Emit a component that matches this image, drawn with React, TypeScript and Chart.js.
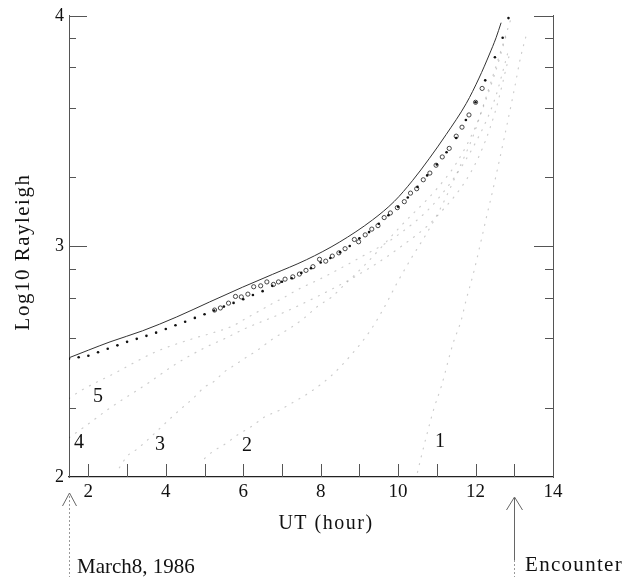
import React, { useEffect, useRef } from "react";
import { Chart, registerables } from "chart.js";

Chart.register(...registerables);

// ---- data (UT hour, log10 Rayleigh) ----
const totalHours = [1.5, 2.0, 2.56, 3.4, 4.28, 5.13, 5.98, 6.76, 7.63, 8.48, 9.34, 9.9, 10.37, 10.8, 11.24, 11.76, 12.09, 12.35, 12.53, 12.66];
const totalLog = [2.517, 2.55, 2.586, 2.634, 2.694, 2.759, 2.823, 2.879, 2.942, 3.018, 3.115, 3.195, 3.285, 3.38, 3.485, 3.62, 3.73, 3.83, 3.905, 3.97];

const dotHours = [1.5, 1.75, 2.0, 2.25, 2.5, 2.75, 3.0, 3.25, 3.5, 3.75, 4.0, 4.25, 4.5, 4.75, 5.0, 5.25, 5.5, 5.75, 6.0, 6.25, 6.5, 6.75, 7.0, 7.25, 7.5, 7.75, 8.0, 8.25, 8.5, 8.75, 9.0, 9.25, 9.5, 9.75, 10.0, 10.25, 10.5, 10.75, 11.0, 11.25, 11.5, 11.75, 12.0, 12.25, 12.5, 12.7, 12.85];
const dotLog = [2.513, 2.519, 2.526, 2.541, 2.556, 2.571, 2.586, 2.599, 2.612, 2.626, 2.642, 2.658, 2.673, 2.69, 2.706, 2.722, 2.739, 2.755, 2.771, 2.789, 2.806, 2.829, 2.847, 2.862, 2.885, 2.905, 2.93, 2.95, 2.975, 3.002, 3.035, 3.062, 3.098, 3.135, 3.172, 3.212, 3.258, 3.308, 3.355, 3.408, 3.47, 3.548, 3.625, 3.72, 3.82, 3.905, 3.99];

const circleHours = [5.26, 5.41, 5.62, 5.8, 5.95, 6.12, 6.27, 6.45, 6.61, 6.78, 6.91, 7.08, 7.28, 7.45, 7.62, 7.8, 7.97, 8.13, 8.3, 8.47, 8.63, 8.87, 8.98, 9.15, 9.32, 9.48, 9.64, 9.8, 9.98, 10.16, 10.32, 10.48, 10.65, 10.82, 10.98, 11.14, 11.32, 11.5, 11.65, 11.83, 12.0, 12.17];
const circleLog = [2.724, 2.733, 2.754, 2.783, 2.781, 2.793, 2.825, 2.829, 2.846, 2.835, 2.846, 2.858, 2.868, 2.88, 2.896, 2.912, 2.944, 2.936, 2.958, 2.972, 2.99, 3.03, 3.02, 3.05, 3.075, 3.09, 3.125, 3.145, 3.168, 3.194, 3.231, 3.25, 3.289, 3.318, 3.352, 3.388, 3.425, 3.478, 3.517, 3.57, 3.625, 3.685];

const comp5Hours = [1.5, 1.76, 2.76, 3.23, 3.74, 4.7, 5.21, 5.73, 6.04, 6.37, 6.73, 7.07, 7.4, 8.0, 9.0, 10.0, 11.0, 12.0, 12.5, 12.85];
const comp5Log = [2.34, 2.37, 2.457, 2.5, 2.543, 2.6, 2.625, 2.655, 2.685, 2.716, 2.75, 2.78, 2.812, 2.86, 2.95, 3.05, 3.2, 3.45, 3.64, 3.85];

const comp4Hours = [1.5, 2.0, 2.48, 2.74, 3.48, 4.26, 5.0, 5.52, 6.0, 7.0, 8.0, 9.0, 10.0, 11.0, 12.0, 12.5, 12.9];
const comp4Log = [2.17, 2.23, 2.29, 2.32, 2.4, 2.49, 2.56, 2.6, 2.64, 2.71, 2.79, 2.88, 2.99, 3.13, 3.36, 3.58, 3.85];

const comp3Hours = [2.8, 3.0, 3.25, 4.26, 4.49, 4.7, 5.0, 5.21, 5.52, 5.73, 6.06, 6.37, 6.73, 7.25, 7.58, 7.92, 8.28, 8.59, 9.2, 9.75, 10.08, 11.0, 11.5, 12.0, 12.5, 12.8];
const comp3Log = [2.04, 2.09, 2.12, 2.276, 2.31, 2.34, 2.39, 2.41, 2.457, 2.48, 2.517, 2.55, 2.595, 2.65, 2.69, 2.74, 2.78, 2.83, 2.93, 3.03, 3.09, 3.25, 3.36, 3.52, 3.75, 3.92];

const comp2Hours = [5.0, 5.21, 5.57, 5.83, 6.22, 6.55, 6.94, 7.25, 7.76, 8.28, 8.79, 9.26, 9.59, 10.0, 10.37, 10.75, 11.11, 11.42, 11.58, 11.94, 12.27, 12.6, 12.9];
const comp2Log = [2.08, 2.11, 2.147, 2.18, 2.22, 2.26, 2.29, 2.32, 2.372, 2.44, 2.53, 2.63, 2.72, 2.85, 2.957, 3.06, 3.17, 3.28, 3.34, 3.48, 3.647, 3.82, 3.98];

const comp1Hours = [10.5, 10.6, 10.93, 11.11, 11.42, 11.63, 11.76, 11.94, 12.3, 12.48, 13.0, 13.15, 13.33];
const comp1Log = [2.02, 2.09, 2.3, 2.39, 2.58, 2.68, 2.77, 2.88, 3.14, 3.27, 3.68, 3.81, 3.93];

const curveLabels = ["5", "4", "3", "2", "1"];
const curveLabelHours = [2.25, 1.76, 3.85, 6.1, 11.08];
const curveLabelLogs = [2.346, 2.147, 2.139, 2.134, 2.152];

const xTickLabels = [2, 4, 6, 8, 10, 12, 14];
const xMinorTicks = [2, 3, 4, 5, 6, 7, 8, 9, 10, 11, 12, 13];
const yMajorTicks = [2, 3, 4];
const yMinorTicks = [
  Math.log10(200), Math.log10(400), Math.log10(600), Math.log10(800),
  Math.log10(2000), Math.log10(4000), Math.log10(6000), Math.log10(8000),
];

const startHour = 1.5;
const encounterHour = 13;
const xTitle = "UT (hour)";
const yTitle = "Log10 Rayleigh";
const startLabel = "March8, 1986";
const encounterLabel = "Encounter";

const SERIF = "'Liberation Serif', 'DejaVu Serif', serif";

function pts(xs: number[], ys: number[]) {
  return xs.map((x, i) => ({ x, y: ys[i] }));
}

const decorPlugin = {
  id: "decor",
  afterDraw(chart: any) {
    const ctx: CanvasRenderingContext2D = chart.ctx;
    const xs = chart.scales.x;
    const ys = chart.scales.y;
    const area = chart.chartArea;
    ctx.save();
    // inward ticks
    ctx.strokeStyle = "#555";
    ctx.lineWidth = 1;
    ctx.beginPath();
    for (const h of xMinorTicks) {
      const px = Math.round(xs.getPixelForValue(h)) + 0.5;
      ctx.moveTo(px, area.bottom);
      ctx.lineTo(px, area.bottom - 13);
    }
    for (const v of yMajorTicks) {
      if (v === 2) continue;
      const py = Math.round(ys.getPixelForValue(v)) + 0.5;
      ctx.moveTo(area.left, py);
      ctx.lineTo(area.left + 18, py);
      ctx.moveTo(area.right, py);
      ctx.lineTo(area.right - 19, py);
    }
    for (const v of yMinorTicks) {
      const py = Math.round(ys.getPixelForValue(v)) + 0.5;
      ctx.moveTo(area.left, py);
      ctx.lineTo(area.left + 7, py);
      ctx.moveTo(area.right, py);
      ctx.lineTo(area.right - 8, py);
    }
    ctx.stroke();

    // curve labels
    ctx.fillStyle = "#111";
    ctx.font = `20px ${SERIF}`;
    ctx.textAlign = "center";
    ctx.textBaseline = "middle";
    curveLabels.forEach((t, i) => {
      ctx.fillText(t, xs.getPixelForValue(curveLabelHours[i]), ys.getPixelForValue(curveLabelLogs[i]));
    });

    // axis titles
    (ctx as any).letterSpacing = "1.5px";
    ctx.font = `20px ${SERIF}`;
    ctx.fillText(xTitle, 326, 524);
    ctx.save();
    ctx.translate(23, 252);
    ctx.rotate(-Math.PI / 2);
    ctx.font = `21px ${SERIF}`;
    ctx.fillText(yTitle, 0, 0);
    ctx.restore();

    // arrows
    const sx = Math.round(xs.getPixelForValue(startHour)) + 0.5;
    const ex = Math.round(xs.getPixelForValue(encounterHour)) + 0.5;
    ctx.strokeStyle = "#666";
    ctx.lineWidth = 1;
    ctx.beginPath();
    ctx.moveTo(sx - 7, 506);
    ctx.lineTo(sx, 493);
    ctx.lineTo(sx + 7, 506);
    ctx.moveTo(ex - 8, 510);
    ctx.lineTo(ex, 497);
    ctx.lineTo(ex + 8, 510);
    ctx.moveTo(ex, 498);
    ctx.lineTo(ex, 560);
    ctx.stroke();
    ctx.setLineDash([2, 2]);
    ctx.strokeStyle = "#999";
    ctx.beginPath();
    ctx.moveTo(sx, 496);
    ctx.lineTo(sx, 577);
    ctx.moveTo(ex, 560);
    ctx.lineTo(ex, 577);
    ctx.stroke();
    ctx.setLineDash([]);

    ctx.fillStyle = "#111";
    ctx.textAlign = "left";
    ctx.textBaseline = "alphabetic";
    (ctx as any).letterSpacing = "0px";
    ctx.font = `21px ${SERIF}`;
    ctx.fillText(startLabel, 77, 573);
    (ctx as any).letterSpacing = "1.3px";
    ctx.fillText(encounterLabel, 525, 571);
    ctx.restore();
  },
};

export default function App() {
  const ref = useRef<HTMLCanvasElement>(null);
  useEffect(() => {
    const canvas = ref.current;
    if (!canvas) return;
    const faint = (xs: number[], ys: number[], label: string) => ({
      label,
      data: pts(xs, ys),
      showLine: true,
      borderColor: "rgba(0,0,0,0.2)",
      borderWidth: 1.2,
      borderDash: [1, 7],
      borderCapStyle: "round" as const,
      pointRadius: 0,
      cubicInterpolationMode: "monotone" as const,
      fill: false,
    });
    const chart = new Chart(canvas, {
      type: "scatter",
      data: {
        datasets: [
          faint(comp5Hours, comp5Log, "5"),
          faint(comp4Hours, comp4Log, "4"),
          faint(comp3Hours, comp3Log, "3"),
          faint(comp2Hours, comp2Log, "2"),
          faint(comp1Hours, comp1Log, "1"),
          {
            label: "total",
            data: pts(totalHours, totalLog),
            showLine: true,
            borderColor: "#333",
            borderWidth: 1,
            pointRadius: 0,
            cubicInterpolationMode: "monotone",
          },
          {
            label: "dots",
            data: pts(dotHours, dotLog),
            showLine: false,
            pointRadius: 1.3,
            pointBorderWidth: 0,
            backgroundColor: "#111",
            borderColor: "#111",
          },
          {
            label: "circles",
            data: pts(circleHours, circleLog),
            showLine: false,
            pointRadius: 2.1,
            pointBorderWidth: 0.9,
            backgroundColor: "rgba(255,255,255,0)",
            borderColor: "#333",
          },
        ] as any,
      },
      options: {
        animation: false,
        responsive: false,
        maintainAspectRatio: false,
        devicePixelRatio: 1,
        events: [],
        layout: { padding: { top: 15, left: 0, right: 0, bottom: 0 } },
        plugins: { legend: { display: false }, tooltip: { enabled: false }, title: { display: false } },
        scales: {
          x: {
            type: "linear",
            position: "bottom",
            min: 1.5,
            max: 14,
            afterBuildTicks: (s: any) => {
              s.ticks = xTickLabels.map((value) => ({ value }));
            },
            afterFit: (s: any) => {
              s.height = 100;
            },
            grid: { display: false, drawTicks: false },
            border: { display: true, color: "#222", width: 1.3 },
            ticks: {
              autoSkip: false,
              maxRotation: 0,
              padding: 4,
              color: "#111",
              font: { family: SERIF, size: 19 },
            },
          },
          y: {
            type: "linear",
            position: "left",
            min: 2,
            max: 4,
            afterBuildTicks: (s: any) => {
              s.ticks = yMajorTicks.map((value) => ({ value }));
            },
            afterFit: (s: any) => {
              s.width = 69;
            },
            grid: { display: false, drawTicks: false },
            border: { display: true, color: "#555", width: 1 },
            ticks: {
              autoSkip: false,
              padding: 5,
              color: "#111",
              font: { family: SERIF, size: 18 },
              callback: (v: any) => String(v),
            },
          },
          y2: {
            type: "linear",
            position: "right",
            min: 2,
            max: 4,
            afterFit: (s: any) => {
              s.width = 71;
            },
            grid: { display: false, drawTicks: false },
            border: { display: true, color: "#555", width: 1 },
            ticks: { display: false },
          },
        },
      },
      plugins: [decorPlugin],
    });
    return () => chart.destroy();
  }, []);
  return (
    <canvas
      ref={ref}
      width={624}
      height={577}
      style={{ position: "absolute", left: 0, top: 0, width: 624, height: 577, background: "#fff" }}
    />
  );
}
